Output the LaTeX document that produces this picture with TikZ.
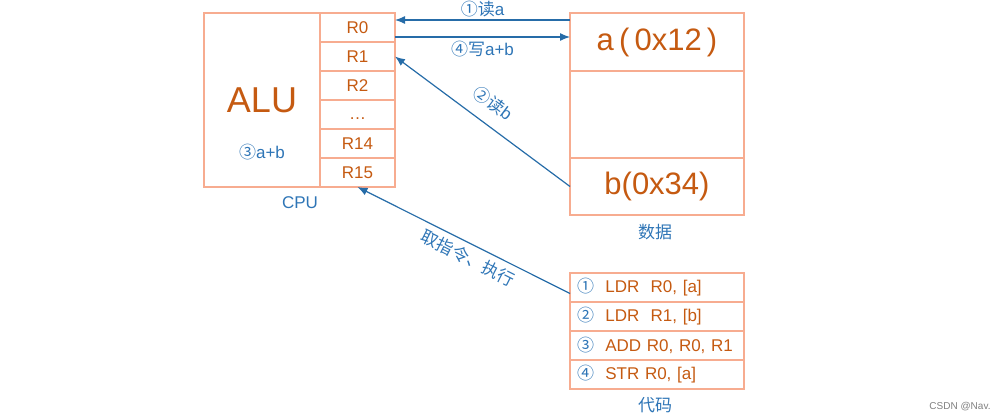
\documentclass[tikz,border=0pt]{standalone}
\usepackage{fontspec}
\setmainfont{Liberation Sans}
\newfontfamily\cjkfont{Noto Sans CJK SC}
\newcommand{\zh}[1]{{\cjkfont #1}}
\usetikzlibrary{arrows.meta,positioning,calc}
\definecolor{boxline}{RGB}{247,172,144}
\definecolor{regtext}{RGB}{197,90,17}
\definecolor{labtext}{RGB}{46,117,182}
\definecolor{arrline}{RGB}{38,108,168}

\begin{document}
\begin{tikzpicture}[
      x=1pt, y=1pt,
      every node/.style={inner sep=0pt, outer sep=0pt},
      cell/.style={draw=boxline, line width=1.4pt, rectangle},
      reg/.style={cell, minimum width=75pt, minimum height=29pt, text=regtext, font=\fontsize{17}{19}\selectfont},
      mem/.style={cell, minimum width=174pt, text=regtext, font=\fontsize{31}{34}\selectfont},
      codeline/.style={cell, minimum width=174pt, minimum height=29pt, text width=160pt, align=left, text=regtext, font=\fontsize{17}{19}\selectfont},
      lab/.style={text=labtext, font=\fontsize{17}{19}\selectfont},
      arr/.style={draw=arrline, line width=1.2pt},
      >={Latex[length=10pt,width=8pt]}
    ]
    \useasboundingbox (0,0) rectangle (998,-420);

    % CPU
    \node[cell, minimum width=116pt, minimum height=174pt, anchor=north west] (alu) at (204,-13) {};
    \node[text=regtext, font=\fontsize{36}{40}\selectfont] (alutxt) at (262,-100) {ALU};
    \node[lab] (sum) at (262,-152) {\zh{③}a+b};
    \node[reg, anchor=north west] (r0) at (alu.north east) {R0};
    \node[reg, below=0pt of r0] (r1) {R1};
    \node[reg, below=0pt of r1] (r2) {R2};
    \node[reg, below=0pt of r2] (rdots) {\smash{\raisebox{-5pt}{\dots}}};
    \node[reg, below=0pt of rdots] (r14) {R14};
    \node[reg, below=0pt of r14] (r15) {R15};
    \node[lab] (cpu) at (300,-203) {CPU};

    % data
    \node[mem, minimum height=58pt, anchor=north west] (da) at (570,-13) {a\,(\,0x12\,)};
    \node[mem, minimum height=87pt, below=0pt of da] (dm) {};
    \node[mem, minimum height=57pt, below=0pt of dm] (db) {b(0x34)};
    \node[lab] (data) at (655,-232) {\zh{数据}};

    % code
    \node[codeline, anchor=north west] (c1) at (570,-273) {\textcolor{labtext}{\zh{①}}\ \ LDR\ \ R0, [a]};
    \node[codeline, below=0pt of c1] (c2) {\textcolor{labtext}{\zh{②}}\ \ LDR\ \ R1, [b]};
    \node[codeline, below=0pt of c2] (c3) {\textcolor{labtext}{\zh{③}}\ \ ADD R0, R0, R1};
    \node[codeline, below=0pt of c3] (c4) {\textcolor{labtext}{\zh{④}}\ \ STR R0, [a]};
    \node[lab] (code) at (655,-405) {\zh{代码}};

    % the arrows
    \draw[arr,->] ([yshift=-7pt]da.north west) -- node[lab, above=3pt] (rda) {\zh{①读}a} ([yshift=-7pt]r0.north east);
    \draw[arr,->] ([yshift=-24pt]r0.north east) -- node[lab, below=4pt] (wab) {\zh{④写}a+b} ([yshift=-24pt]da.north west);
    \draw[arr,<-] (r1.east) -- node[lab, sloped, above=13pt, pos=0.49] (rdb) {\zh{②读}b} (db.west);
    \draw[arr,<-] (r15.south) -- node[lab, sloped, below=6pt, pos=0.55] (fetch) {\zh{取指令、执行}} ([yshift=-6pt]c1.west);

    \node[text=gray, font=\fontsize{10}{11}\selectfont] (mark) at (960,-407) {CSDN @Nav.};
\end{tikzpicture}
\end{document}
